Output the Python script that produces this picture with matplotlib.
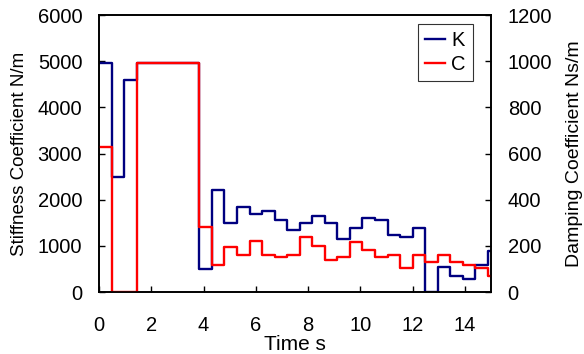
import matplotlib
matplotlib.use("Agg")
import matplotlib.pyplot as plt
import numpy as np

plt.rcParams['font.family'] = ['Liberation Sans', 'DejaVu Sans']

# step edges (s)
t_edges = [0.0, 0.48, 0.96, 1.44, 1.92, 2.40, 2.88, 3.36, 3.84, 4.32, 4.80,
           5.28, 5.76, 6.24, 6.72, 7.20, 7.68, 8.16, 8.64, 9.12, 9.60, 10.08,
           10.56, 11.04, 11.52, 12.00, 12.48, 12.96, 13.44, 13.92, 14.40, 14.88, 15.0]
# stiffness K (N/m), one value per interval
K = [4950, 2500, 4600, 4950, 4950, 4950, 4950, 4950, 500, 2200, 1500,
     1850, 1700, 1750, 1550, 1350, 1500, 1640, 1500, 1150, 1390, 1600,
     1570, 1240, 1200, 1390, 0, 550, 350, 290, 590, 885]
# damping C (Ns/m), one value per interval
C = [630, 0, 0, 990, 990, 990, 990, 990, 280, 117, 197,
     161, 219, 161, 152, 161, 240, 199, 138, 152, 217, 180,
     152, 161, 103, 161, 130, 161, 130, 119, 103, 70]

x_ticks = [0, 2, 4, 6, 8, 10, 12, 14]
yl_ticks = [0, 1000, 2000, 3000, 4000, 5000, 6000]
yr_ticks = [0, 200, 400, 600, 800, 1000, 1200]

fig = plt.figure(figsize=(5.84, 3.54), dpi=100)
ax = fig.add_axes([0.1695, 0.175, 0.6713, 0.7826])
ax2 = ax.twinx()

lk, = ax.step(t_edges, K + [K[-1]], where='post', color='#000080', lw=1.7, label='K')
lc, = ax2.step(t_edges, C + [C[-1]], where='post', color='#ff0000', lw=1.7, label='C')

ax.set_xlim(0, 15)
ax.set_ylim(0, 6000)
ax2.set_ylim(0, 1200)
ax.set_xticks(x_ticks)
ax.set_yticks(yl_ticks)
ax2.set_yticks(yr_ticks)

fs = 14.5
ax.tick_params(axis='y', direction='in', labelsize=fs, length=4, width=1, pad=12)
ax.tick_params(axis='x', direction='in', labelsize=fs, length=4, width=1, pad=17)
ax2.tick_params(axis='y', direction='in', labelsize=fs, length=4, width=1, pad=12)
ax.set_xlabel('Time s', fontsize=15, labelpad=0)
ax.set_ylabel('Stiffness Coefficient N/m', fontsize=13.5, labelpad=7)
ax2.set_ylabel('Damping Coefficient Ns/m', fontsize=14, labelpad=10)
for a in (ax, ax2):
    for s in a.spines.values():
        s.set_linewidth(1.2)

leg = ax2.legend([lk, lc], ['K', 'C'], loc='upper right', bbox_to_anchor=(0.954, 0.9675),
                 fontsize=fs, frameon=True, fancybox=False, edgecolor='black',
                 handlelength=1.0, handletextpad=0.3, borderpad=0.35, labelspacing=0.25,
                 borderaxespad=0)
leg.get_frame().set_linewidth(0.8)

fig.savefig('out.png', dpi=100)
